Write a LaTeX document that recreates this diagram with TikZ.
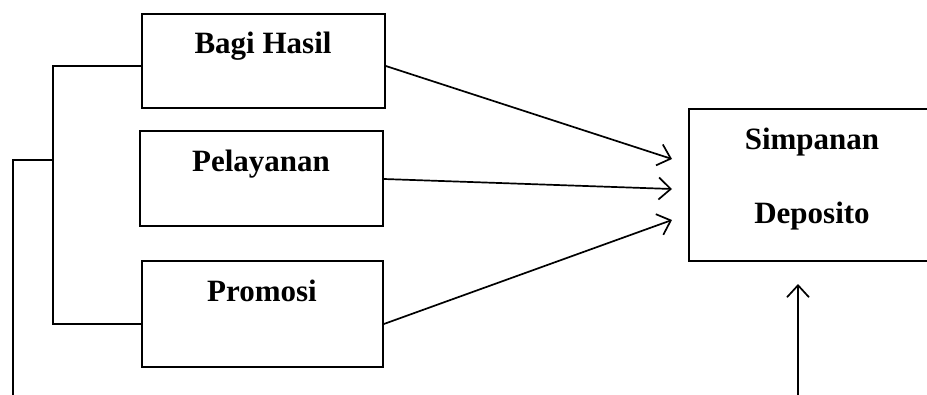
\documentclass[tikz,border=0pt]{standalone}
\usepackage{fontspec}
\setmainfont{Liberation Serif}
\usetikzlibrary{arrows.meta}
\begin{document}
\begin{tikzpicture}[x=1pt,y=-1pt,
  box/.style={draw,line width=1.7pt,rectangle,inner sep=0pt},
  lbl/.style={anchor=base,inner sep=0pt,font=\fontsize{31}{36}\selectfont\bfseries},
  conn/.style={line width=1.7pt},
  arr/.style={line width=1.7pt,-{Straight Barb[length=12pt,width=22pt,line width=1.7pt]}}]
\clip (0,0) rectangle (927,394);
\useasboundingbox (0,0) rectangle (927,394);
% boxes
\node[box,minimum width=243pt,minimum height=94pt] (bh) at (263.5,61) {};
\node[box,minimum width=243pt,minimum height=95pt] (pl) at (261.5,178.5) {};
\node[box,minimum width=241pt,minimum height=106pt] (pr) at (262.5,314) {};
\node[box,minimum width=300pt,minimum height=152pt] (sd) at (839,185) {};
% labels
\node[lbl] (tbh) at (263,53) {Bagi Hasil};
\node[lbl] (tpl) at (261,171) {Pelayanan};
\node[lbl] (tpr) at (262,301) {Promosi};
\node[lbl] (tsd1) at (812,149) {Simpanan};
\node[lbl] (tsd2) at (812,223) {Deposito};
% coordinates
\coordinate (bhR) at (bh.east |- 0,66);
\coordinate (plR) at (pl.east |- 0,179);
\coordinate (prR) at (pr.east |- 0,324);
\coordinate (t1) at (672,159);
\coordinate (t2) at (672,189);
\coordinate (t3) at (672,220);
\coordinate (bhL) at (bh.west |- 0,66);
\coordinate (prL) at (pr.west |- 0,324);
\coordinate (jt) at (53,66);
\coordinate (jb) at (53,324);
\coordinate (jm) at (53,160);
\coordinate (om) at (13,160);
\coordinate (ob) at (13,396);
\coordinate (vb) at (798,396);
\coordinate (vt) at (798,284);
% arrows
\draw[arr] (bhR) -- (t1);
\draw[arr] (plR) -- (t2);
\draw[arr] (prR) -- (t3);
\draw[arr] (vb) -- (vt);
% bracket
\draw[conn] (bhL) -- (jt) -- (jb) -- (prL);
\draw[conn] (jm) -- (om) -- (ob);
\end{tikzpicture}
\end{document}
